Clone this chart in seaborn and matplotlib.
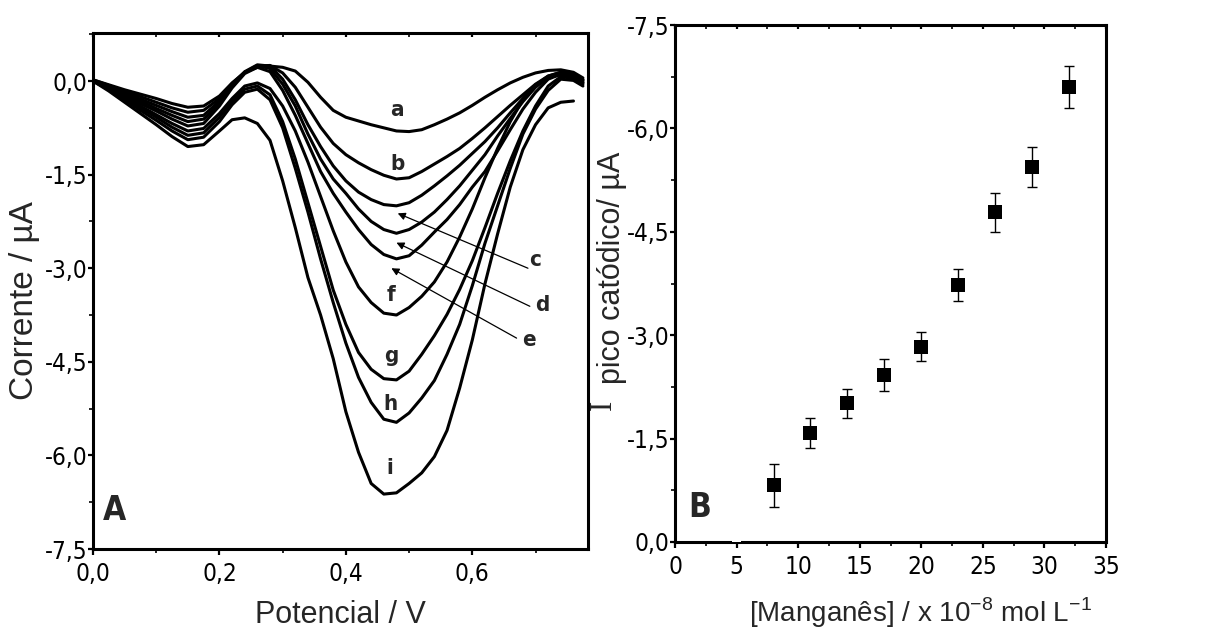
import os
import numpy as np
import pandas as pd
import matplotlib
matplotlib.use("Agg")
import matplotlib.pyplot as plt
from matplotlib import font_manager
from matplotlib.font_manager import FontProperties
from matplotlib.ticker import MultipleLocator
import seaborn as sns

# ---------------- data: panel A (voltammograms) ----------------
potential = [0.00, 0.025, 0.05, 0.075, 0.10, 0.125, 0.15, 0.175, 0.20, 0.22, 0.24, 0.26, 0.28,
             0.30, 0.32, 0.34, 0.36, 0.38, 0.40, 0.42, 0.44, 0.46, 0.48, 0.50, 0.52, 0.54,
             0.56, 0.58, 0.60, 0.62, 0.64, 0.66, 0.68, 0.70, 0.72, 0.74, 0.76, 0.775]

curve_a = [0.02, -0.06, -0.14, -0.21, -0.28, -0.36, -0.42, -0.40, -0.24, -0.03, 0.14, 0.22, 0.24,
           0.22, 0.16, -0.02, -0.26, -0.47, -0.58, -0.64, -0.70, -0.75, -0.80, -0.81, -0.78, -0.70,
           -0.61, -0.51, -0.39, -0.26, -0.14, -0.03, 0.06, 0.13, 0.17, 0.18, 0.14, 0.05]
curve_b = [0.02, -0.07, -0.16, -0.25, -0.34, -0.43, -0.50, -0.47, -0.28, -0.04, 0.14, 0.24, 0.25,
           0.13, -0.10, -0.42, -0.74, -1.00, -1.18, -1.31, -1.42, -1.51, -1.57, -1.55, -1.45, -1.33,
           -1.21, -1.08, -0.92, -0.75, -0.57, -0.39, -0.22, -0.05, 0.08, 0.14, 0.12, 0.02]
curve_c = [0.00, -0.09, -0.19, -0.29, -0.39, -0.49, -0.58, -0.55, -0.32, -0.06, 0.15, 0.26, 0.24,
           0.03, -0.30, -0.70, -1.05, -1.36, -1.60, -1.78, -1.90, -1.98, -2.00, -1.95, -1.83, -1.68,
           -1.52, -1.35, -1.16, -0.97, -0.75, -0.51, -0.28, -0.07, 0.08, 0.14, 0.12, 0.02]
curve_d = [0.00, -0.10, -0.21, -0.32, -0.44, -0.55, -0.65, -0.61, -0.36, -0.08, 0.14, 0.25, 0.20,
           -0.05, -0.40, -0.85, -1.25, -1.57, -1.80, -2.05, -2.25, -2.38, -2.44, -2.38, -2.26, -2.10,
           -1.90, -1.68, -1.43, -1.18, -0.88, -0.60, -0.33, -0.10, 0.06, 0.13, 0.10, 0.00]
curve_e = [0.00, -0.11, -0.23, -0.36, -0.48, -0.61, -0.72, -0.68, -0.40, -0.11, 0.12, 0.22, 0.15,
           -0.15, -0.55, -1.00, -1.45, -1.80, -2.10, -2.38, -2.62, -2.78, -2.85, -2.80, -2.63, -2.42,
           -2.22, -1.98, -1.70, -1.45, -1.12, -0.78, -0.45, -0.18, 0.03, 0.11, 0.09, -0.02]
curve_f = [0.00, -0.12, -0.26, -0.40, -0.54, -0.68, -0.80, -0.76, -0.52, -0.28, -0.08, -0.03, -0.12,
           -0.40, -0.80, -1.30, -1.85, -2.40, -2.90, -3.30, -3.55, -3.72, -3.75, -3.63, -3.45, -3.22,
           -2.90, -2.50, -2.05, -1.55, -1.08, -0.65, -0.30, -0.06, 0.06, 0.10, 0.06, -0.03]
curve_g = [0.00, -0.13, -0.28, -0.43, -0.58, -0.74, -0.87, -0.83, -0.58, -0.33, -0.13, -0.08, -0.22,
           -0.65, -1.25, -1.95, -2.65, -3.35, -3.90, -4.35, -4.62, -4.77, -4.79, -4.65, -4.38, -4.08,
           -3.74, -3.34, -2.88, -2.35, -1.80, -1.28, -0.80, -0.40, -0.08, 0.07, 0.04, -0.05]
curve_h = [0.00, -0.14, -0.30, -0.47, -0.63, -0.80, -0.94, -0.90, -0.65, -0.38, -0.18, -0.13, -0.30,
           -0.75, -1.40, -2.10, -2.85, -3.55, -4.20, -4.75, -5.15, -5.42, -5.47, -5.32, -5.08, -4.80,
           -4.38, -3.90, -3.28, -2.60, -2.00, -1.40, -0.85, -0.45, -0.15, 0.03, 0.01, -0.08]
curve_i = [0.00, -0.16, -0.34, -0.52, -0.70, -0.89, -1.05, -1.02, -0.80, -0.62, -0.59, -0.68, -0.95,
           -1.60, -2.35, -3.15, -3.75, -4.45, -5.30, -5.95, -6.45, -6.62, -6.60, -6.45, -6.28, -6.02,
           -5.60, -4.92, -4.15, -3.25, -2.45, -1.70, -1.10, -0.70, -0.43, -0.34, -0.32, np.nan]

curve_names = ["a", "b", "c", "d", "e", "f", "g", "h", "i"]
curves = [curve_a, curve_b, curve_c, curve_d, curve_e, curve_f, curve_g, curve_h, curve_i]

# ---------------- data: panel B (calibration) ----------------
conc = [8, 11, 14, 17, 20, 23, 26, 29, 32]
peak_current = [-0.82, -1.58, -2.01, -2.42, -2.83, -3.73, -4.78, -5.44, -6.60]
peak_error = [0.31, 0.22, 0.21, 0.23, 0.21, 0.23, 0.28, 0.29, 0.30]
hidden_conc = [5]
hidden_current = [0.0]

# ---------------- fonts ----------------
sns.set_theme(style="ticks")
plt.rcParams["font.family"] = ["Liberation Sans", "DejaVu Sans"]
plt.rcParams["mathtext.fontset"] = "custom"
plt.rcParams["mathtext.rm"] = "Liberation Sans"


def find_condensed(bold=False):
    bad = ["italic", "oblique", "light", "thin", "black", "medium", "semi", "extra", "ultra"]
    best = None
    for f in font_manager.fontManager.ttflist:
        base = os.path.basename(f.fname).lower()
        if not ("narrow" in base or "condensed" in base or f.stretch in ("condensed", "semi-condensed")):
            continue
        if any(b in base for b in bad):
            continue
        isbold = "bold" in base
        if isbold != bold:
            continue
        if "liberation" in base:
            score = 3
        elif "dejavu" in base:
            score = 2
        else:
            score = 1
        if best is None or score > best[0]:
            best = (score, f.fname)
    return best[1] if best else None


cond_reg = find_condensed(False)
cond_bold = find_condensed(True)
if cond_reg:
    tick_fp = FontProperties(fname=cond_reg, size=17.5)
else:
    tick_fp = FontProperties(family="Liberation Sans", size=16)
if cond_bold:
    small_bold = FontProperties(fname=cond_bold, size=16)
    big_bold = FontProperties(fname=cond_bold, size=24)
else:
    small_bold = FontProperties(family="Liberation Sans", weight="bold", size=14)
    big_bold = FontProperties(family="Liberation Sans", weight="bold", size=21)

W, H = 1209, 628
fig = plt.figure(figsize=(W / 100, H / 100), dpi=100)
fig.patch.set_facecolor("white")


def px_rect(x0, y0, x1, y1):
    return [x0 / W, 1 - y1 / H, (x1 - x0) / W, (y1 - y0) / H]


def comma_fmt(v):
    s = f"{v:.1f}".replace(".", ",")
    return "0,0" if s == "-0,0" else s


axA = fig.add_axes(px_rect(93, 33, 588, 549))
axB = fig.add_axes(px_rect(675, 25, 1106, 542))

# ---------------- panel A ----------------
rows = []
for name, vals in zip(curve_names, curves):
    for x, y in zip(potential, vals):
        rows.append({"potential": x, "current": y, "curve": name})
dfA = pd.DataFrame(rows).dropna()
sns.lineplot(data=dfA, x="potential", y="current", hue="curve", units="curve",
             estimator=None, sort=False, palette=["black"] * 9, linewidth=2.2,
             legend=False, ax=axA)
axA.set_xlim(0, 0.783)
axA.set_ylim(-7.5, 0.77)
axA.set_xlabel("")
axA.set_ylabel("")

label_pos = {"a": (0.481, -0.46), "b": (0.482, -1.33), "f": (0.471, -3.43),
             "g": (0.471, -4.41), "h": (0.470, -5.18), "i": (0.470, -6.20),
             "c": (0.700, -2.87), "d": (0.710, -3.59), "e": (0.689, -4.15)}
for k, (x, y) in label_pos.items():
    axA.text(x, y, k, fontproperties=small_bold, ha="center", va="center")

arrows = {"c": ((0.482, -2.12), (0.688, -3.00)),
          "d": ((0.480, -2.59), (0.691, -3.61)),
          "e": ((0.472, -3.00), (0.670, -4.12))}
for k, (tip, start) in arrows.items():
    axA.annotate("", xy=tip, xytext=start,
                 arrowprops=dict(arrowstyle="-|>", lw=0.9, color="black",
                                 mutation_scale=11, shrinkA=0, shrinkB=0))

axA.text(0.02, 0.056, "A", transform=axA.transAxes, fontproperties=big_bold,
         ha="left", va="baseline")

# ---------------- panel B ----------------
dfB = pd.DataFrame({"conc": conc, "current": peak_current, "err": peak_error})
axB.errorbar(dfB["conc"], dfB["current"], yerr=dfB["err"], fmt="none",
             ecolor="black", elinewidth=1.0, capsize=3.5, capthick=1.0, zorder=2)
sns.scatterplot(data=dfB, x="conc", y="current", marker="s", s=110,
                color="black", edgecolor="black", linewidth=0, ax=axB, zorder=3)
axB.scatter(hidden_conc, hidden_current, marker="s", s=45, color="white",
            edgecolor="none", zorder=4)
axB.set_xlim(0, 35)
axB.set_ylim(0, -7.5)
axB.set_xlabel("")
axB.set_ylabel("")
axB.text(0.03, 0.048, "B", transform=axB.transAxes, fontproperties=big_bold,
         ha="left", va="baseline")

# ---------------- ticks ----------------
xA_major = np.round(np.arange(0, 0.78, 0.2), 2)
xB_major = np.arange(0, 36, 5)
y_major = np.round(np.arange(0, -7.6, -1.5), 2)

axA.set_xticks(xA_major, [comma_fmt(v) for v in xA_major], fontproperties=tick_fp)
axA.set_yticks(y_major, [comma_fmt(v) for v in y_major], fontproperties=tick_fp)
axB.set_xticks(xB_major, [str(v) for v in xB_major], fontproperties=tick_fp)
axB.set_yticks(y_major, [comma_fmt(v) for v in y_major], fontproperties=tick_fp)
axA.xaxis.set_minor_locator(MultipleLocator(0.1))
axA.yaxis.set_minor_locator(MultipleLocator(0.75))
axB.xaxis.set_minor_locator(MultipleLocator(2.5))
axB.yaxis.set_minor_locator(MultipleLocator(0.75))

for ax in (axA, axB):
    for s in ax.spines.values():
        s.set_linewidth(2.2)
        s.set_color("black")
    ax.tick_params(which="major", direction="out", length=4.5, width=1.6,
                   colors="black", top=False, right=False)
    ax.tick_params(which="minor", direction="out", length=3, width=1.4,
                   top=False, right=False)
    ax.tick_params(axis="x", which="major", pad=5)
    ax.tick_params(axis="y", which="major", length=3.5, pad=0.5)
    ax.tick_params(axis="x", which="both", top=True)
    ax.set_facecolor("white")
    ax.grid(False)
    for t in ax.xaxis.get_major_ticks() + ax.xaxis.get_minor_ticks():
        t.tick2line.set_marker(matplotlib.lines.TICKDOWN)
        t.tick2line.set_markersize(3)


# ---------------- axis titles ----------------
def fx(x):
    return x / W


def fy(y):
    return 1 - y / H


fig.text(fx(33), fy(400), "Corrente / µA", rotation=90, rotation_mode="anchor",
         ha="left", va="baseline", fontsize=24, family=["Liberation Sans", "DejaVu Sans"])
fig.text(fx(340), fy(623), "Potencial / V", ha="center", va="baseline",
         fontsize=22, family=["Liberation Sans", "DejaVu Sans"])
fig.text(fx(920), fy(622),
         r"[Manganês] / x 10$^{\mathregular{-8}}$ mol L$^{\mathregular{-1}}$",
         ha="center", va="baseline", fontsize=20, family=["Liberation Sans", "DejaVu Sans"])
fig.text(fx(611), fy(410), "I", rotation=90, rotation_mode="anchor",
         ha="left", va="baseline", fontsize=22,
         family=["Liberation Serif", "DejaVu Serif"])
fig.text(fx(620), fy(384), "pico catódico/ µA", rotation=90, rotation_mode="anchor",
         ha="left", va="baseline", fontsize=22, family=["Liberation Sans", "DejaVu Sans"])

fig.savefig("out.png", dpi=100, facecolor="white")
